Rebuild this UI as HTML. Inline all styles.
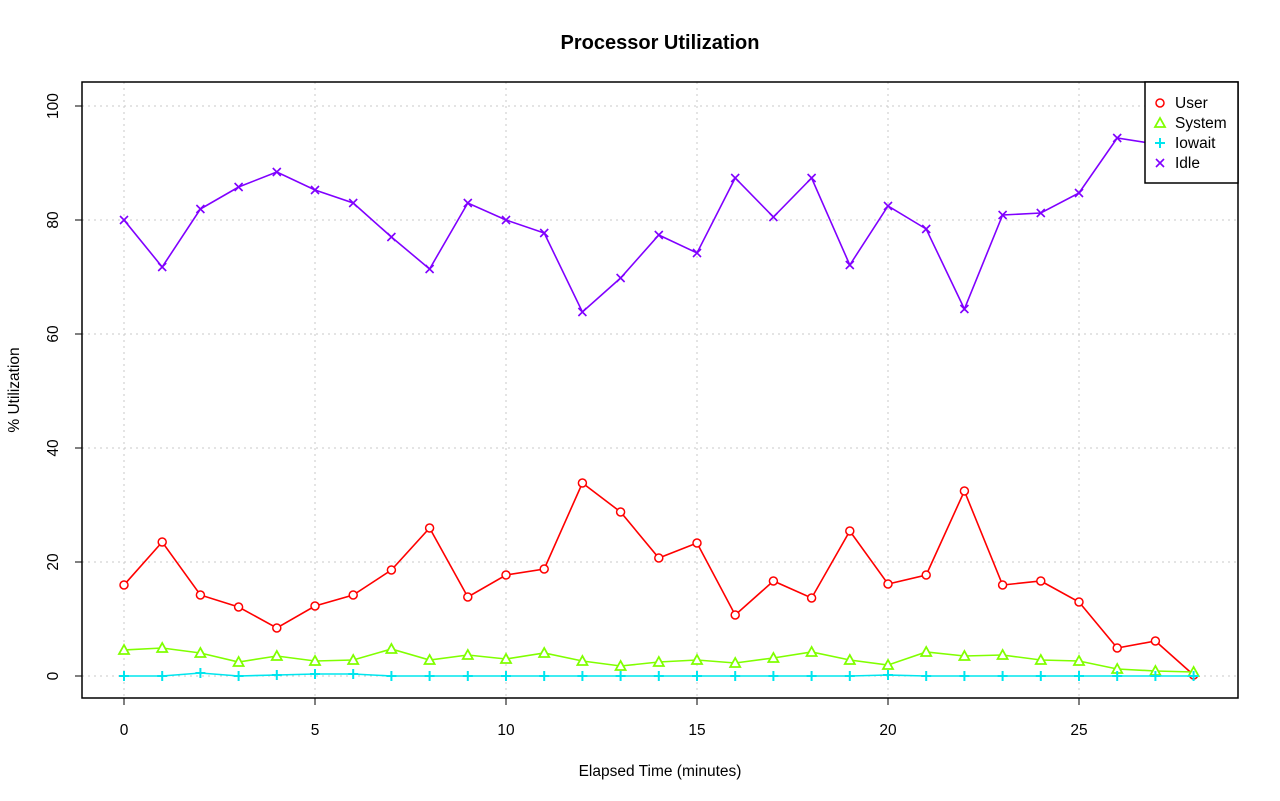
<!DOCTYPE html>
<html><head><style>body{margin:0;background:#fff}svg{display:block}text{font-family:"Liberation Sans",sans-serif}</style></head><body>
<svg width="1280" height="801" xmlns="http://www.w3.org/2000/svg">
<rect width="1280" height="801" fill="#fff"/>
<text x="660" y="49" text-anchor="middle" font-size="20" font-weight="bold">Processor Utilization</text>
<g stroke="#c8c8c8" stroke-dasharray="2,4" stroke-width="1">
<line x1="124" y1="82" x2="124" y2="698"/><line x1="315" y1="82" x2="315" y2="698"/><line x1="506" y1="82" x2="506" y2="698"/><line x1="697" y1="82" x2="697" y2="698"/><line x1="888" y1="82" x2="888" y2="698"/><line x1="1079" y1="82" x2="1079" y2="698"/>
<line x1="82" y1="676" x2="1238" y2="676"/><line x1="82" y1="562" x2="1238" y2="562"/><line x1="82" y1="448" x2="1238" y2="448"/><line x1="82" y1="334" x2="1238" y2="334"/><line x1="82" y1="220" x2="1238" y2="220"/><line x1="82" y1="106" x2="1238" y2="106"/>
</g>
<rect x="82" y="82" width="1156" height="616" fill="none" stroke="#000" stroke-width="1.5"/>
<g stroke="#000"><line x1="124" y1="698" x2="1079" y2="698"/>
<line x1="124" y1="698" x2="124" y2="705"/><line x1="315" y1="698" x2="315" y2="705"/><line x1="506" y1="698" x2="506" y2="705"/><line x1="697" y1="698" x2="697" y2="705"/><line x1="888" y1="698" x2="888" y2="705"/><line x1="1079" y1="698" x2="1079" y2="705"/>
<line x1="82" y1="106" x2="82" y2="676"/>
<line x1="75" y1="676" x2="82" y2="676"/><line x1="75" y1="562" x2="82" y2="562"/><line x1="75" y1="448" x2="82" y2="448"/><line x1="75" y1="334" x2="82" y2="334"/><line x1="75" y1="220" x2="82" y2="220"/><line x1="75" y1="106" x2="82" y2="106"/></g>
<g font-size="15.5" text-anchor="middle">
<text x="124" y="735">0</text><text x="315" y="735">5</text><text x="506" y="735">10</text><text x="697" y="735">15</text><text x="888" y="735">20</text><text x="1079" y="735">25</text>
<text transform="translate(58,676) rotate(-90)">0</text><text transform="translate(58,562) rotate(-90)">20</text><text transform="translate(58,448) rotate(-90)">40</text><text transform="translate(58,334) rotate(-90)">60</text><text transform="translate(58,220) rotate(-90)">80</text><text transform="translate(58,106) rotate(-90)">100</text>
<text x="660" y="776">Elapsed Time (minutes)</text>
<text transform="translate(19,390) rotate(-90)">% Utilization</text>
</g>
<g id="plot"></g>
<rect x="1145" y="82" width="93" height="101" fill="#fff" stroke="#000" stroke-width="1.5"/>
<g font-size="15.5"><text x="1175" y="108">User</text><text x="1175" y="128">System</text><text x="1175" y="148">Iowait</text><text x="1175" y="168">Idle</text></g>
<g id="leg"></g>
<script>
const X=i=>124+i*38.2;
const S={
user:{c:"#ff0000",p:"o",y:[585,542,595,607,628,606,595,570,528,597,575,569,483,512,558,543,615,581,598,531,584,575,491,585,581,602,648,641,675]},
sys:{c:"#80ff00",p:"t",y:[650,648,653,662,656,661,660,649,660,655,659,653,661,666,662,660,663,658,652,660,665,652,656,655,660,661,669,671,672]},
io:{c:"#00e5ee",p:"+",y:[676,676,673,676,675,674,674,676,676,676,676,676,676,676,676,676,676,676,676,676,675,676,676,676,676,676,676,676,676]},
idle:{c:"#8000ff",p:"x",y:[220,267,209,187,172,190,203,237,269,203,220,233,312,278,235,253,178,217,178,265,206,229,309,215,213,193,138,144,110]}};
const ns="http://www.w3.org/2000/svg";
function el(t,a,g){const e=document.createElementNS(ns,t);for(const k in a)e.setAttribute(k,a[k]);g.appendChild(e);return e;}
function mk(g,p,x,y,c){
 if(p=="o")el("circle",{cx:x,cy:y,r:4,fill:"#fff",stroke:c,"stroke-width":1.5},g);
 else if(p=="t")el("polygon",{points:`${x},${y-5} ${x-5},${y+4} ${x+5},${y+4}`,fill:"#fff",stroke:c,"stroke-width":1.8},g);
 else if(p=="+"){el("path",{d:`M${x-5} ${y}H${x+5}M${x} ${y-5}V${y+5}`,stroke:c,"stroke-width":2},g);}
 else el("path",{d:`M${x-4} ${y-4}L${x+4} ${y+4}M${x-4} ${y+4}L${x+4} ${y-4}`,stroke:c,"stroke-width":1.6},g);}
const g=document.getElementById("plot");
for(const k of ["idle","user","sys","io"]){const s=S[k];
 el("polyline",{points:s.y.map((y,i)=>X(i)+","+y).join(" "),fill:"none",stroke:s.c,"stroke-width":1.6},g);
 s.y.forEach((y,i)=>mk(g,s.p,X(i),y,s.c));}
const lg=document.getElementById("leg");
["user","sys","io","idle"].forEach((k,i)=>mk(lg,S[k].p,1160,103+i*20,S[k].c));
</script>
</svg>
</body></html>
